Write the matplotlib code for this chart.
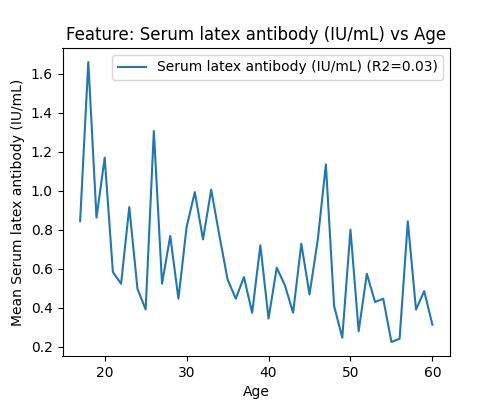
import matplotlib
matplotlib.use('Agg')
import matplotlib.pyplot as plt

# mean value per age
ages = list(range(17, 61))
mean_vals = [0.844, 1.66, 0.862, 1.169, 0.583, 0.523, 0.916, 0.497, 0.391, 1.306,
             0.523, 0.768, 0.446, 0.814, 0.993, 0.750, 1.005, 0.77, 0.545, 0.446,
             0.557, 0.374, 0.720, 0.344, 0.605, 0.515, 0.374, 0.728, 0.468, 0.745,
             1.135, 0.409, 0.246, 0.800, 0.279, 0.574, 0.429, 0.446, 0.224, 0.241,
             0.843, 0.390, 0.485, 0.313]
feature = 'Serum latex antibody (IU/mL)'
r2 = 0.03

fig, ax = plt.subplots(figsize=(5, 4), dpi=100)
ax.plot(ages, mean_vals, label=f'{feature} (R2={r2:.2f})')
ax.set_title(f'Feature: {feature} vs Age')
ax.set_xlabel('Age')
ax.set_ylabel(f'Mean {feature}')
ax.legend(loc='upper right')
fig.savefig('out.png')
